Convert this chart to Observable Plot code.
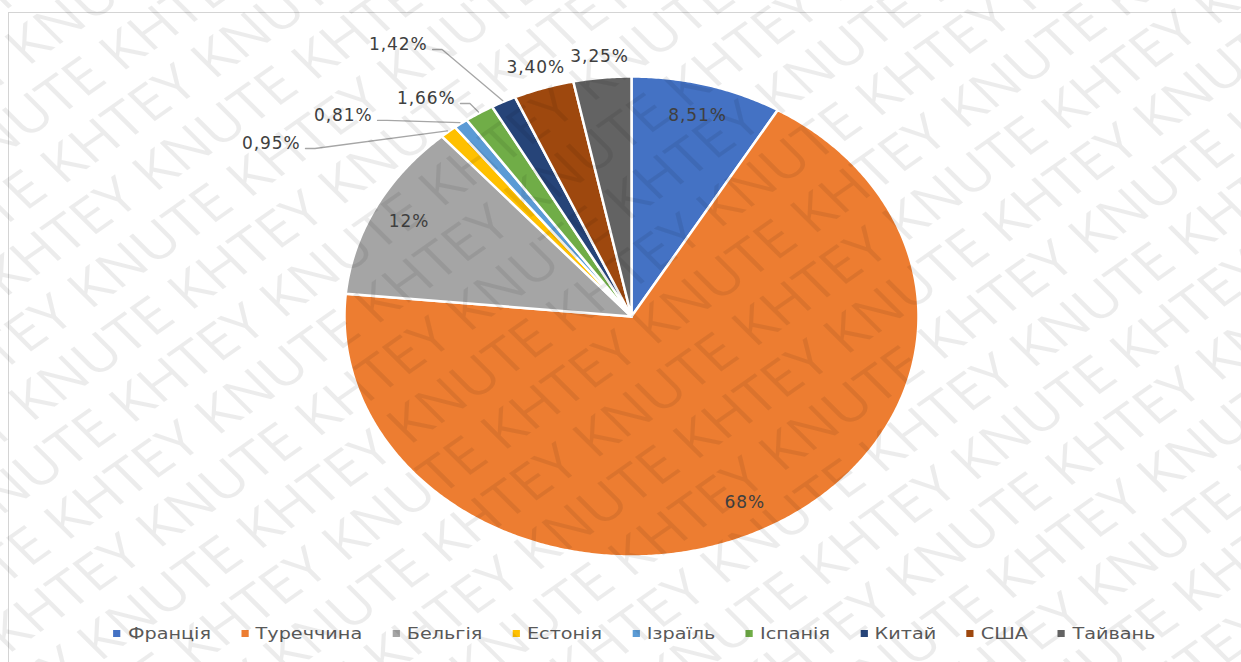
<!DOCTYPE html>
<html>
<head>
<meta charset="utf-8">
<script src="https://cdn.jsdelivr.net/npm/d3@7"></script>
<script src="https://cdn.jsdelivr.net/npm/@observablehq/plot@0.6"></script>
<style>
  html, body { margin: 0; padding: 0; background: #fff; }
  #stage { position: relative; width: 1241px; height: 662px; overflow: hidden; background: #fff; }
  #frame { position: absolute; left: 8px; top: 12px; right: -5px; bottom: -5px; border: 1px solid #d4d4d4; pointer-events: none; }
  #chart { position: absolute; left: 0; top: 0; }
  #chart svg text { letter-spacing: 0.9px; }
  #legend { position: absolute; left: 0; top: 624px; width: 1241px; display: flex; justify-content: center; align-items: center;
            font-family: "DejaVu Sans", sans-serif; font-size: 16px; color: #595959;
            transform: translateX(14px) scaleX(1.2); transform-origin: 50% 50%; }
  #legend .item { display: flex; align-items: center; margin: 0 12.6px; white-space: nowrap; }
  #legend .sw { width: 6px; height: 7px; margin-right: 6px; }
  #wmwrap { position: absolute; left: 0; top: 0; width: 1241px; height: 662px; overflow: hidden; pointer-events: none; }
  #wm { position: absolute; left: -880px; top: -1170px; width: 3000px; height: 3000px; transform: scaleX(1.2) rotate(-40deg);
        transform-origin: 50% 50%; font-family: "Open Sans", "DejaVu Sans", sans-serif;
        font-weight: 400; font-size: 50px; line-height: 55px; color: rgba(0,0,0,0.075); white-space: nowrap; }
</style>
</head>
<body>
<div id="stage">
  <div id="frame"></div>
  <div id="chart"></div>
  <div id="legend"></div>
  <div id="wmwrap"><div id="wm"></div></div>
</div>
<script>
// ---- data ----
const countries = ["Франція", "Туреччина", "Бельгія", "Естонія", "Ізраїль", "Іспанія", "Китай", "США", "Тайвань"];
const shares = [8.51, 68, 12, 0.95, 0.81, 1.66, 1.42, 3.40, 3.25];
const shareLabels = ["8,51%", "68%", "12%", "0,95%", "0,81%", "1,66%", "1,42%", "3,40%", "3,25%"];
const colors = ["#4472C4", "#ED7D31", "#A5A5A5", "#FFC000", "#5B9BD5", "#70AD47", "#264478", "#9E480E", "#636363"];
// label placement mode per slice
const labelMode = ["inside", "inside", "inside", "leader", "leader", "leader", "leader", "outside", "outside"];
// start of leader lines (label side), in pie radius units (y up)
const leaderStart = { "Естонія": [-1.136, 0.70], "Ізраїль": [-0.885, 0.817], "Іспанія": [-0.596, 0.8875], "Китай": [-0.693, 1.1125] };

// ---- geometry from data ----
const pie = d3.pie().sort(null).value(d => d).startAngle(0).endAngle(2 * Math.PI)(shares);
const pt = (a, r) => ({ x: r * Math.sin(a), y: r * Math.cos(a) });

const slices = pie.map((p, i) => {
  const pts = [{ x: 0, y: 0 }];
  const n = Math.max(2, Math.ceil((p.endAngle - p.startAngle) / (Math.PI / 360)));
  for (let k = 0; k <= n; k++) pts.push(pt(p.startAngle + (p.endAngle - p.startAngle) * k / n, 1));
  pts.push({ x: 0, y: 0 });
  return pts;
});

const mid = i => (pie[i].startAngle + pie[i].endAngle) / 2;
const inside = [], outside = [], leaderLabels = [], leaders = [];
countries.forEach((c, i) => {
  if (labelMode[i] === "inside") inside.push({ ...pt(mid(i), 0.87), label: shareLabels[i] });
  else if (labelMode[i] === "outside") outside.push({ ...pt(mid(i), 1.09), label: shareLabels[i] });
  else {
    const [sx, sy] = leaderStart[c];
    leaderLabels.push({ x: sx, y: sy, label: shareLabels[i] });
    const end = pt(mid(i), 1.005);
    leaders.push({ c, x: sx, y: sy }, { c, x: sx + 0.033, y: sy }, { c, x: end.x, y: end.y });
  }
});

const cx = 631, cy = 316, rx = 287, ry = 240;
const font = "DejaVu Sans, sans-serif";

const plot = Plot.plot({
  width: 1241,
  height: 615,
  margin: 0,
  style: { background: "transparent", overflow: "visible" },
  x: { domain: [-1, 1], range: [cx - rx, cx + rx], axis: null },
  y: { domain: [-1, 1], range: [cy + ry, cy - ry], axis: null },
  marks: [
    ...slices.map((s, i) => Plot.line(s, { x: "x", y: "y", fill: colors[i], stroke: "white", strokeWidth: 2.5, strokeLinejoin: "round" })),
    Plot.line(leaders, { x: "x", y: "y", z: "c", stroke: "#a6a6a6", strokeWidth: 1.3 }),
    Plot.text(inside, { x: "x", y: "y", text: "label", fill: "#404040", fontSize: 17, fontFamily: font }),
    Plot.text(outside, { x: "x", y: "y", text: "label", fill: "#404040", fontSize: 17, fontFamily: font }),
    Plot.text(leaderLabels, { x: "x", y: "y", text: "label", textAnchor: "end", dx: -5, dy: -5, fill: "#404040", fontSize: 17, fontFamily: font })
  ]
});
document.getElementById("chart").appendChild(plot);

// ---- legend ----
const legend = document.getElementById("legend");
countries.forEach((c, i) => {
  const item = document.createElement("div");
  item.className = "item";
  const sw = document.createElement("span");
  sw.className = "sw";
  sw.style.background = colors[i];
  const t = document.createElement("span");
  t.textContent = c;
  item.appendChild(sw); item.appendChild(t);
  legend.appendChild(item);
});

// ---- watermark ----
const wm = document.getElementById("wm");
for (let i = 0; i < 56; i++) {
  const line = document.createElement("div");
  line.style.marginLeft = ((i % 3) * -110) + "px";
  line.textContent = "KHTEY KNUTE ".repeat(12);
  wm.appendChild(line);
}
</script>
</body>
</html>
